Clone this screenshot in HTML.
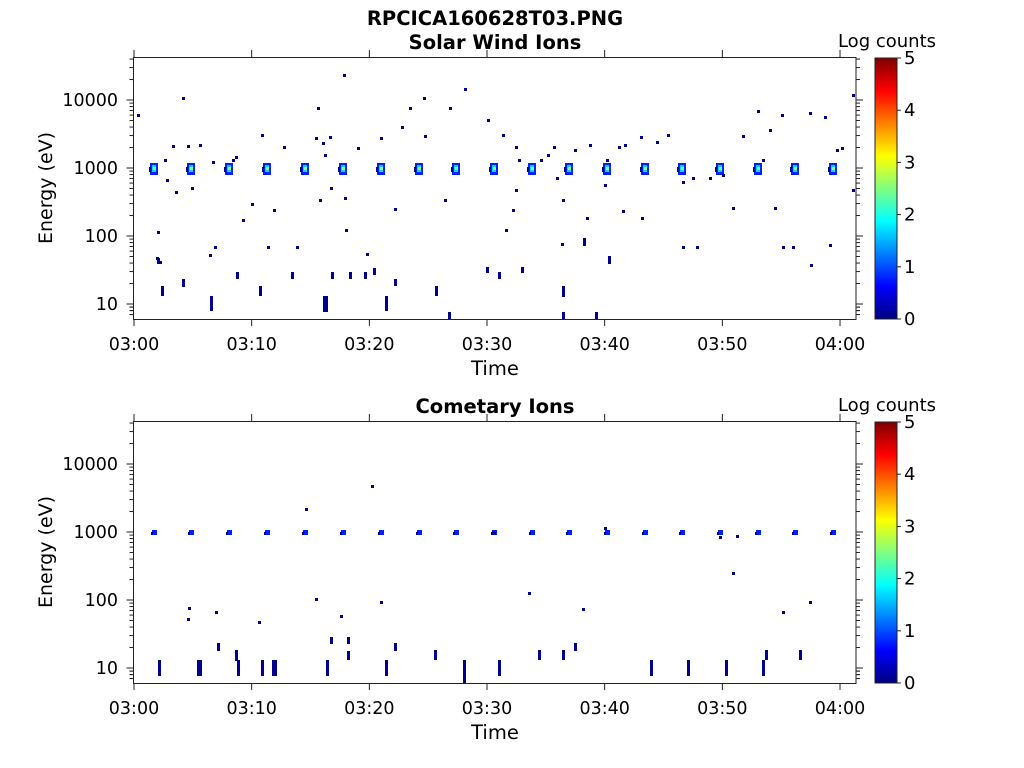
<!DOCTYPE html>
<html><head><meta charset="utf-8"><style>
html,body{margin:0;padding:0;background:#fff;width:1024px;height:768px;overflow:hidden}
svg{display:block;font-family:"DejaVu Sans","Liberation Sans",sans-serif}
</style></head><body>
<svg id="s" width="1024" height="768" xmlns="http://www.w3.org/2000/svg">
<defs><linearGradient id="jet" x1="0" y1="1" x2="0" y2="0">
<stop offset="0" stop-color="#00007f"/><stop offset="0.125" stop-color="#0000ff"/>
<stop offset="0.375" stop-color="#00ffff"/><stop offset="0.625" stop-color="#ffff00"/>
<stop offset="0.875" stop-color="#ff0000"/><stop offset="1" stop-color="#7f0000"/></linearGradient></defs>
<text x="495" y="25" font-size="19.5" font-weight="bold" text-anchor="middle">RPCICA160628T03.PNG</text>
<text x="495" y="49" font-size="19.5" font-weight="bold" text-anchor="middle">Solar Wind Ions</text>
<text x="495" y="413" font-size="19.5" font-weight="bold" text-anchor="middle">Cometary Ions</text>
<text x="887" y="47" font-size="18" text-anchor="middle">Log counts</text>
<text x="887" y="411" font-size="18" text-anchor="middle">Log counts</text>
</svg>
<script>
var s=document.getElementById('s'),NS='http://www.w3.org/2000/svg';
function el(t,a,txt){var e=document.createElementNS(NS,t);for(var k in a)e.setAttribute(k,a[k]);if(txt!==undefined)e.textContent=txt;s.appendChild(e);return e;}
function r(x,y,w,h,c){el('rect',{x:x,y:y,width:w,height:h,fill:c});}
function panel(oy){
 var top=57+oy,bot=319+oy;
 el('rect',{x:133.5,y:top+0.5,width:722.5,height:bot-top,fill:'none',stroke:'#222','stroke-width':1});
 for(var d=0;d<=4;d++){for(var m=1;m<10;m++){var v=Math.pow(10,d)*m;var y=304+oy-(Math.log10(v)-1)*68;if(y<top||y>bot)continue;var L=m==1?7:4;
  el('line',{x1:133.5-L,x2:133.5,y1:y,y2:y,stroke:'#222'});el('line',{x1:856,x2:856+L,y1:y,y2:y,stroke:'#222'});}}
 for(var m=6;m<10;m++){var y=304+oy-(Math.log10(m)-1)*68;if(y<=bot){el('line',{x1:129.5,x2:133.5,y1:y,y2:y,stroke:'#222'});el('line',{x1:856,x2:860,y1:y,y2:y,stroke:'#222'});}}
 var lab=['10','100','1000','10000'];
 for(var i=0;i<4;i++){el('text',{x:118,y:304+oy-i*68+6,'font-size':17.5,'text-anchor':'end'},lab[i]);}
 var tl=['03:00','03:10','03:20','03:30','03:40','03:50','04:00'];
 for(var i=0;i<7;i++){var x=134+i*117.67;el('line',{x1:x,x2:x,y1:bot,y2:bot+7,stroke:'#222'});el('line',{x1:x,x2:x,y1:top,y2:top-7,stroke:'#222'});
  el('text',{x:x,y:bot+31,'font-size':17.5,'text-anchor':'middle'},tl[i]);}
 el('text',{x:495,y:bot+56,'font-size':19.5,'text-anchor':'middle'},'Time');
 el('text',{x:52,y:(top+bot)/2,'font-size':19,'text-anchor':'middle',transform:'rotate(-90 52 '+(top+bot)/2+')'},'Energy (eV)');
 el('rect',{x:875,y:top+1,width:22,height:bot-top-1,fill:'url(#jet)',stroke:'#222'});
 for(var i=0;i<=5;i++){var y=bot-i*(bot-top-1)/5;el('line',{x1:897,x2:901,y1:y,y2:y,stroke:'#222'});el('text',{x:904,y:y+6,'font-size':18},String(i));}
}
var DB='#00008f',B='#0020ff';
var cx=[154,191,229,267,305,343,381,419,456,494,532,569,607,645,682,720,758,795,833];
cx.forEach(function(x,i){r(x-4,163,8,12,B);r(x-2,165,4,7,'#00d8ff');r(x-1,167,3,3,'#90ff70');r(x-5,167,2,5,DB);});
var td=[[138,115],[183,98],[158,232],[157,258],[160,262],[165,160],[167,180],[173,146],[176,192],[188,146],[192,188],[200,145],[213,162],[210,255],[233,160],[236,157],[243,220],[252,204],[262,135],[268,247],[274,210],[284,147],[316,138],[318,108],[323,143],[320,200],[325,155],[330,137],[332,275],[331,188],[346,230],[345,198],[358,148],[367,254],[381,138],[395,209],[402,127],[410,108],[424,98],[425,136],[445,200],[450,108],[465,89],[488,120],[503,135],[506,230],[513,210],[516,190],[519,160],[541,160],[548,155],[554,147],[557,178],[563,200],[575,150],[587,218],[590,145],[605,185],[607,160],[619,147],[623,211],[625,145],[641,137],[642,218],[657,142],[668,135],[683,182],[693,178],[710,178],[723,175],[733,208],[743,136],[758,111],[763,160],[770,130],[775,208],[782,115],[793,247],[810,113],[811,265],[825,117],[830,245],[837,150],[842,148],[853,95],[853,190],[344,75],[215,247],[297,247],[683,247],[697,247],[783,247],[562,244],[516,147]];
td.forEach(function(p){r(p[0]-1,p[1]-1,3,3,DB);});
var tb=[[158,258,264],[162,286,296],[183,279,287],[211,296,311],[237,272,279],[260,286,296],[292,272,279],[326,296,312],[324,296,312],[332,272,279],[350,272,279],[365,272,279],[374,268,275],[386,296,311],[395,279,286],[436,286,296],[449,312,319],[487,267,273],[499,272,279],[522,267,273],[563,286,297],[563,312,319],[584,238,246],[596,312,319],[609,256,264]];
tb.forEach(function(b){r(b[0]-1,b[1],3,b[2]-b[1],DB);});
cx.forEach(function(x){r(x-2,530,5,5,B);r(x-3,532,2,3,DB);});
var bd=[[306,509],[372,486],[381,602],[316,599],[188,619],[189,608],[216,612],[259,622],[341,616],[529,593],[583,609],[733,573],[783,612],[810,602],[605,528],[720,537],[737,536],[494,533]];
bd.forEach(function(p){r(p[0]-1,p[1]-1,3,3,DB);});
var bb=[[159,660,676],[198,660,676],[200,660,676],[218,643,651],[236,650,661],[238,660,676],[262,660,676],[273,660,676],[275,660,676],[327,660,676],[331,637,644],[348,651,660],[348,637,644],[386,660,676],[395,643,651],[435,650,660],[464,660,684],[499,660,676],[539,650,660],[563,650,660],[575,643,651],[651,660,676],[688,660,676],[726,660,676],[763,660,676],[766,650,660],[800,650,660]];
bb.forEach(function(b){r(b[0]-1,b[1],3,b[2]-b[1],DB);});
panel(0);panel(364);
</script>
</body></html>
